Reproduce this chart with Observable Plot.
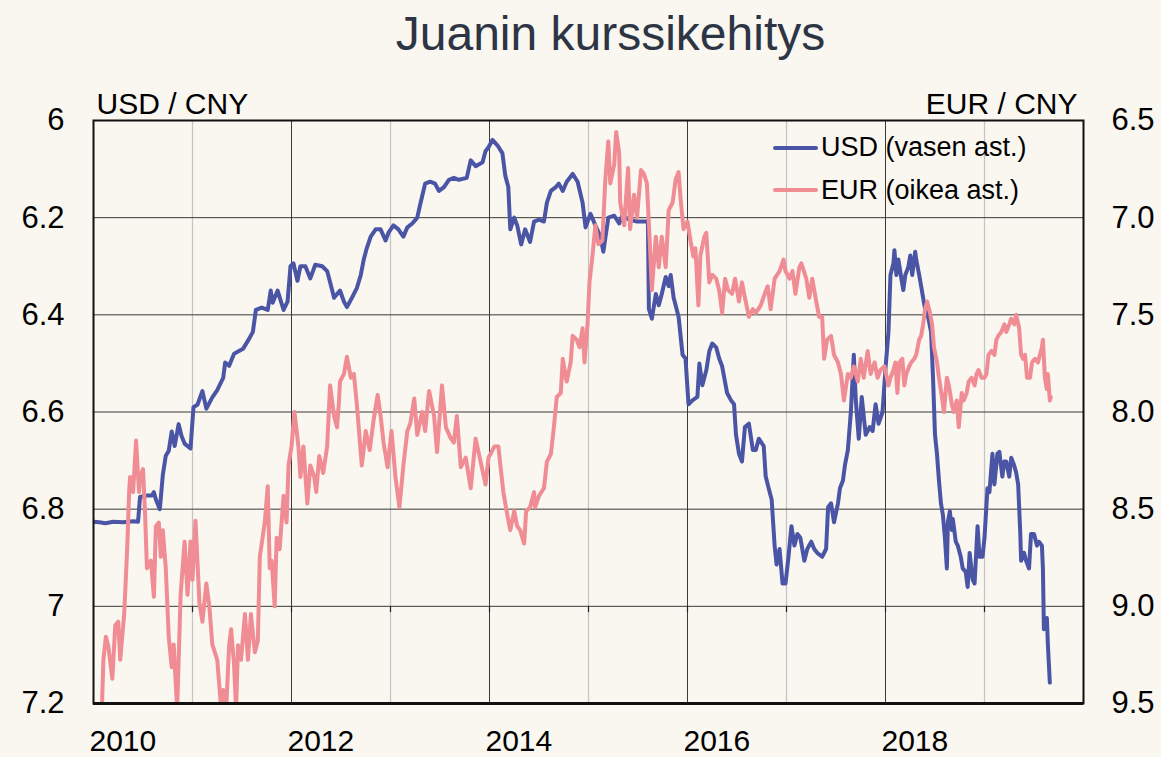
<!DOCTYPE html>
<html>
<head>
<meta charset="utf-8">
<script src="https://cdn.jsdelivr.net/npm/d3@7"></script>
<script src="https://cdn.jsdelivr.net/npm/@observablehq/plot@0.6"></script>
<style>
  html, body { margin: 0; padding: 0; background: #faf6f0; }
  #wrap { position: relative; width: 1161px; height: 757px; background: #faf6f0; font-family: "Liberation Sans", Arial, sans-serif; overflow: hidden; }
  #title { box-sizing: border-box; height: 90px; padding-top: 10px; line-height: 48px; font-size: 48px; color: #2d3545; text-align: center; margin-left: 60px; width: 1101px; }
  #legend { position: absolute; left: 773px; top: 126.5px; font-size: 27px; color: #000; }
  .row { display: flex; align-items: center; height: 42.5px; }
  .sw { display: inline-block; width: 45px; height: 4px; margin-right: 3px; border-radius: 2px; }
</style>
</head>
<body>
<div id="wrap">
  <div id="title">Juanin kurssikehitys</div>
  <div id="chart"></div>
  <div id="legend"></div>
</div>
<script>
// ---- Data ----
const titleText = "Juanin kurssikehitys";
const leftAxisTitle = "USD / CNY";
const rightAxisTitle = "EUR / CNY";
const usdName = "USD (vasen ast.)";
const eurName = "EUR (oikea ast.)";
const usdColor = "#4a55a5";
const eurColor = "#f08c94";

const yearLabels = [2010, 2012, 2014, 2016, 2018];
const darkYears = [2012, 2014, 2016, 2018];
const lightYears = [2011, 2013, 2015, 2017, 2019];
const allYears = [2011, 2012, 2013, 2014, 2015, 2016, 2017, 2018, 2019];
const usdTicks = [6, 6.2, 6.4, 6.6, 6.8, 7, 7.2];
const eurTicks = [6.5, 7.0, 7.5, 8.0, 8.5, 9.0, 9.5];

// USD/CNY, [year fraction, value]
const usdSeries = [
[2010.00,6.826],[2010.06,6.827],[2010.12,6.829],[2010.20,6.826],[2010.30,6.827],[2010.40,6.825],[2010.45,6.826],
[2010.47,6.775],[2010.53,6.772],[2010.59,6.772],[2010.61,6.765],[2010.63,6.78],[2010.67,6.80],[2010.70,6.73],
[2010.73,6.69],[2010.76,6.68],[2010.79,6.64],[2010.82,6.67],[2010.86,6.625],[2010.89,6.65],[2010.92,6.665],
[2010.98,6.675],[2011.01,6.59],[2011.05,6.585],[2011.10,6.557],[2011.14,6.593],[2011.20,6.57],[2011.25,6.555],
[2011.31,6.53],[2011.33,6.498],[2011.37,6.505],[2011.42,6.48],[2011.51,6.47],[2011.57,6.45],[2011.61,6.435],
[2011.64,6.39],[2011.70,6.385],[2011.76,6.39],[2011.79,6.35],[2011.81,6.375],[2011.86,6.35],[2011.92,6.39],
[2011.96,6.373],[2011.99,6.30],[2012.02,6.294],[2012.06,6.33],[2012.09,6.30],[2012.14,6.30],[2012.19,6.325],
[2012.24,6.297],[2012.31,6.30],[2012.36,6.31],[2012.39,6.333],[2012.43,6.365],[2012.49,6.35],[2012.53,6.373],
[2012.56,6.384],[2012.61,6.365],[2012.66,6.345],[2012.70,6.318],[2012.73,6.286],[2012.76,6.263],[2012.80,6.239],
[2012.85,6.224],[2012.90,6.224],[2012.95,6.247],[2012.98,6.231],[2013.03,6.216],[2013.08,6.224],[2013.13,6.239],
[2013.17,6.22],[2013.22,6.212],[2013.27,6.20],[2013.30,6.173],[2013.35,6.13],[2013.40,6.126],[2013.45,6.13],
[2013.49,6.145],[2013.54,6.137],[2013.59,6.122],[2013.64,6.118],[2013.69,6.122],[2013.77,6.118],[2013.81,6.082],
[2013.86,6.094],[2013.93,6.086],[2013.96,6.063],[2013.99,6.055],[2014.03,6.04],[2014.08,6.051],[2014.13,6.067],
[2014.16,6.114],[2014.19,6.137],[2014.21,6.224],[2014.25,6.20],[2014.28,6.216],[2014.32,6.255],[2014.36,6.224],
[2014.41,6.25],[2014.45,6.208],[2014.50,6.204],[2014.55,6.208],[2014.58,6.169],[2014.62,6.145],[2014.67,6.137],
[2014.70,6.13],[2014.74,6.145],[2014.78,6.126],[2014.84,6.11],[2014.89,6.126],[2014.94,6.169],[2014.97,6.22],
[2015.02,6.192],[2015.07,6.216],[2015.12,6.239],[2015.15,6.27],[2015.20,6.20],[2015.26,6.196],[2015.31,6.212],
[2015.34,6.196],[2015.41,6.204],[2015.49,6.208],[2015.58,6.208],[2015.60,6.208],[2015.61,6.388],[2015.64,6.408],
[2015.68,6.357],[2015.71,6.38],[2015.74,6.357],[2015.78,6.322],[2015.81,6.341],[2015.83,6.318],[2015.86,6.365],
[2015.91,6.404],[2015.95,6.482],[2015.98,6.49],[2016.01,6.584],[2016.05,6.576],[2016.10,6.569],[2016.12,6.50],
[2016.15,6.545],[2016.19,6.514],[2016.22,6.475],[2016.25,6.459],[2016.29,6.467],[2016.32,6.49],[2016.35,6.506],
[2016.40,6.561],[2016.44,6.576],[2016.47,6.584],[2016.49,6.647],[2016.52,6.686],[2016.55,6.702],[2016.58,6.631],
[2016.62,6.624],[2016.66,6.678],[2016.69,6.678],[2016.72,6.655],[2016.77,6.67],[2016.79,6.733],[2016.82,6.757],
[2016.85,6.78],[2016.88,6.875],[2016.90,6.914],[2016.93,6.882],[2016.96,6.953],[2016.99,6.953],[2017.02,6.898],
[2017.05,6.835],[2017.08,6.875],[2017.11,6.851],[2017.14,6.859],[2017.18,6.906],[2017.21,6.882],[2017.25,6.867],
[2017.28,6.882],[2017.31,6.89],[2017.36,6.898],[2017.40,6.882],[2017.42,6.796],[2017.45,6.788],[2017.48,6.827],
[2017.52,6.788],[2017.54,6.757],[2017.57,6.741],[2017.59,6.71],[2017.62,6.678],[2017.65,6.60],[2017.68,6.482],
[2017.70,6.576],[2017.73,6.655],[2017.76,6.569],[2017.80,6.647],[2017.84,6.631],[2017.87,6.639],[2017.90,6.584],
[2017.93,6.624],[2017.97,6.60],[2018.00,6.51],[2018.03,6.435],[2018.05,6.318],[2018.08,6.294],[2018.09,6.267],
[2018.11,6.318],[2018.13,6.286],[2018.16,6.325],[2018.18,6.349],[2018.20,6.318],[2018.23,6.302],[2018.25,6.278],
[2018.27,6.318],[2018.30,6.27],[2018.31,6.286],[2018.34,6.318],[2018.36,6.341],[2018.38,6.365],[2018.40,6.388],
[2018.43,6.404],[2018.46,6.435],[2018.48,6.529],[2018.50,6.647],[2018.52,6.686],[2018.54,6.741],[2018.56,6.788],
[2018.58,6.812],[2018.60,6.859],[2018.62,6.922],[2018.63,6.827],[2018.65,6.804],[2018.67,6.843],[2018.68,6.82],
[2018.71,6.867],[2018.73,6.875],[2018.76,6.898],[2018.78,6.922],[2018.81,6.929],[2018.83,6.96],[2018.85,6.89],
[2018.88,6.945],[2018.90,6.953],[2018.93,6.835],[2018.95,6.898],[2018.98,6.898],[2019.00,6.859],[2019.03,6.757],
[2019.05,6.765],[2019.08,6.686],[2019.10,6.749],[2019.13,6.686],[2019.15,6.682],[2019.18,6.733],[2019.20,6.702],
[2019.22,6.702],[2019.25,6.733],[2019.27,6.694],[2019.30,6.71],[2019.32,6.725],[2019.34,6.749],[2019.36,6.843],
[2019.37,6.906],[2019.40,6.89],[2019.42,6.906],[2019.45,6.922],[2019.47,6.851],[2019.50,6.851],[2019.53,6.875],
[2019.55,6.867],[2019.58,6.875],[2019.59,6.922],[2019.60,7.047],[2019.63,7.024],[2019.64,7.078],[2019.66,7.157]
];

// EUR/CNY, [year fraction, value]  (values beyond 9.5 run off the chart)
const eurSeries = [
[2010.00,9.80],[2010.085,9.52],[2010.10,9.275],[2010.125,9.157],[2010.15,9.206],[2010.19,9.373],[2010.22,9.098],
[2010.25,9.079],[2010.27,9.275],[2010.31,9.04],[2010.34,8.706],[2010.36,8.412],[2010.37,8.334],[2010.40,8.412],
[2010.43,8.147],[2010.46,8.412],[2010.47,8.334],[2010.50,8.294],[2010.52,8.51],[2010.54,8.804],[2010.58,8.765],
[2010.61,8.951],[2010.63,8.588],[2010.66,8.569],[2010.68,8.745],[2010.70,8.608],[2010.73,8.804],[2010.76,9.157],
[2010.79,9.314],[2010.81,9.196],[2010.845,9.53],[2010.88,8.941],[2010.92,8.667],[2010.95,8.941],[2010.98,8.667],
[2011.00,8.863],[2011.03,8.559],[2011.07,8.98],[2011.10,9.079],[2011.14,8.882],[2011.17,9.0],[2011.20,9.196],
[2011.25,9.275],[2011.29,9.53],[2011.31,9.43],[2011.34,9.53],[2011.37,9.2],[2011.39,9.118],[2011.42,9.3],
[2011.44,9.53],[2011.46,9.2],[2011.49,9.275],[2011.53,9.04],[2011.56,9.275],[2011.59,9.04],[2011.63,9.236],
[2011.66,9.177],[2011.68,8.745],[2011.73,8.569],[2011.76,8.382],[2011.78,8.804],[2011.80,8.765],[2011.83,9.0],
[2011.85,8.647],[2011.88,8.706],[2011.92,8.431],[2011.95,8.569],[2011.97,8.275],[2012.00,8.177],[2012.03,8.0],
[2012.07,8.177],[2012.09,8.334],[2012.12,8.177],[2012.16,8.471],[2012.19,8.275],[2012.23,8.334],[2012.25,8.412],
[2012.28,8.226],[2012.32,8.314],[2012.36,8.177],[2012.39,7.863],[2012.43,8.02],[2012.46,8.079],[2012.48,7.941],
[2012.49,7.843],[2012.53,7.804],[2012.56,7.716],[2012.60,7.824],[2012.63,7.804],[2012.66,7.961],[2012.71,8.275],
[2012.75,8.098],[2012.79,8.196],[2012.83,8.039],[2012.87,7.912],[2012.90,8.02],[2012.93,8.157],[2012.97,8.284],
[2013.01,8.098],[2013.05,8.334],[2013.09,8.49],[2013.13,8.275],[2013.17,8.098],[2013.20,8.059],[2013.24,7.931],
[2013.27,8.118],[2013.32,8.0],[2013.35,8.098],[2013.39,7.892],[2013.44,8.02],[2013.47,8.206],[2013.52,7.863],
[2013.56,8.079],[2013.61,8.137],[2013.64,8.157],[2013.67,8.02],[2013.71,8.284],[2013.76,8.235],[2013.81,8.392],
[2013.86,8.137],[2013.91,8.255],[2013.96,8.373],[2013.99,8.235],[2014.01,8.216],[2014.05,8.177],[2014.09,8.177],
[2014.11,8.275],[2014.14,8.412],[2014.18,8.53],[2014.21,8.608],[2014.25,8.51],[2014.28,8.588],[2014.31,8.608],
[2014.35,8.677],[2014.37,8.51],[2014.41,8.49],[2014.45,8.412],[2014.46,8.49],[2014.50,8.431],[2014.55,8.392],
[2014.58,8.255],[2014.62,8.216],[2014.65,8.079],[2014.68,7.922],[2014.72,7.902],[2014.74,7.726],[2014.77,7.824],
[2014.78,7.843],[2014.82,7.745],[2014.84,7.608],[2014.88,7.628],[2014.91,7.667],[2014.94,7.569],[2014.96,7.745],
[2014.99,7.549],[2015.01,7.333],[2015.04,7.196],[2015.07,7.039],[2015.10,7.137],[2015.14,7.118],[2015.17,6.804],
[2015.20,6.608],[2015.22,6.824],[2015.26,6.726],[2015.28,6.559],[2015.31,6.667],[2015.32,6.922],[2015.36,7.039],
[2015.40,6.745],[2015.42,7.059],[2015.46,6.882],[2015.49,7.0],[2015.53,6.755],[2015.56,6.775],[2015.59,6.824],
[2015.62,7.137],[2015.64,7.373],[2015.68,7.098],[2015.71,7.255],[2015.74,7.098],[2015.78,7.255],[2015.81,6.961],
[2015.85,6.922],[2015.88,6.804],[2015.91,6.765],[2015.93,6.902],[2015.96,7.059],[2016.00,7.02],[2016.03,7.118],
[2016.06,7.2],[2016.08,7.157],[2016.11,7.451],[2016.13,7.196],[2016.17,7.098],[2016.19,7.078],[2016.22,7.333],
[2016.25,7.294],[2016.29,7.314],[2016.32,7.373],[2016.35,7.49],[2016.38,7.314],[2016.41,7.373],[2016.45,7.392],
[2016.48,7.314],[2016.52,7.431],[2016.55,7.333],[2016.58,7.412],[2016.62,7.51],[2016.66,7.471],[2016.69,7.49],
[2016.74,7.451],[2016.78,7.392],[2016.81,7.353],[2016.84,7.471],[2016.88,7.314],[2016.93,7.275],[2016.97,7.216],
[2016.99,7.275],[2017.03,7.314],[2017.06,7.275],[2017.09,7.392],[2017.13,7.255],[2017.15,7.235],[2017.20,7.314],
[2017.23,7.412],[2017.26,7.314],[2017.30,7.431],[2017.33,7.51],[2017.36,7.51],[2017.38,7.726],[2017.41,7.628],
[2017.45,7.608],[2017.48,7.706],[2017.52,7.745],[2017.55,7.804],[2017.58,7.941],[2017.62,7.804],[2017.65,7.824],
[2017.68,7.765],[2017.72,7.843],[2017.75,7.726],[2017.78,7.824],[2017.82,7.686],[2017.85,7.804],[2017.89,7.745],
[2017.92,7.824],[2017.95,7.784],[2017.99,7.765],[2018.03,7.863],[2018.05,7.824],[2018.08,7.784],[2018.10,7.745],
[2018.12,7.902],[2018.14,7.745],[2018.17,7.726],[2018.19,7.863],[2018.21,7.804],[2018.24,7.765],[2018.26,7.745],
[2018.29,7.726],[2018.31,7.706],[2018.34,7.628],[2018.36,7.608],[2018.38,7.549],[2018.40,7.471],[2018.42,7.431],
[2018.45,7.49],[2018.47,7.549],[2018.49,7.667],[2018.52,7.745],[2018.54,7.824],[2018.57,7.922],[2018.59,8.0],
[2018.62,7.824],[2018.64,7.863],[2018.67,7.961],[2018.69,8.0],[2018.72,7.941],[2018.74,8.078],[2018.77,7.902],
[2018.79,7.941],[2018.82,7.902],[2018.84,7.843],[2018.87,7.824],[2018.90,7.863],[2018.92,7.804],[2018.94,7.784],
[2018.97,7.824],[2019.00,7.824],[2019.02,7.804],[2019.04,7.706],[2019.07,7.686],[2019.10,7.706],[2019.12,7.628],
[2019.14,7.608],[2019.17,7.588],[2019.20,7.549],[2019.22,7.588],[2019.25,7.549],[2019.27,7.52],[2019.30,7.549],
[2019.32,7.50],[2019.35,7.569],[2019.37,7.706],[2019.39,7.726],[2019.41,7.706],[2019.43,7.824],[2019.46,7.824],
[2019.48,7.745],[2019.51,7.726],[2019.54,7.745],[2019.56,7.706],[2019.58,7.667],[2019.59,7.628],[2019.61,7.824],
[2019.63,7.882],[2019.64,7.804],[2019.66,7.941],[2019.67,7.922]
];

// ---- Dual-axis mapping: EUR axis 6.5..9.5 aligned with USD axis 6..7.2 ----
const usdDomain = [6, 7.2];
const eurDomain = [6.5, 9.5];
const k = (usdDomain[1] - usdDomain[0]) / (eurDomain[1] - eurDomain[0]);
const eurToUsd = e => usdDomain[0] + (e - eurDomain[0]) * k;
const usdToEur = u => eurDomain[0] + (u - usdDomain[0]) / k;

const usdData = usdSeries.map(([t, v]) => ({t, v}));
const eurData = eurSeries.map(([t, v]) => ({t, v}));

document.getElementById("title").textContent = titleText;

const chart = Plot.plot({
  width: 1161,
  height: 667,
  marginTop: 30,
  marginBottom: 54,
  marginLeft: 93,
  marginRight: 78,
  style: {background: "transparent", fontFamily: "'Liberation Sans', Arial, sans-serif", fontSize: "31px", color: "#000", overflow: "visible"},
  x: {domain: [2010, 2020]},
  y: {domain: usdDomain, reverse: true},
  marks: [
    Plot.ruleX(lightYears, {stroke: "#c4c4c4", strokeWidth: 1.2}),
    Plot.ruleY(usdTicks, {stroke: "#3a3a3a", strokeWidth: 1}),
    Plot.ruleX(darkYears, {stroke: "#3a3a3a", strokeWidth: 1}),
    Plot.ruleX(allYears, {y1: 7.0, y2: 7.013, stroke: "#222", strokeWidth: 1.2}),
    Plot.line(usdData, {x: "t", y: "v", stroke: usdColor, strokeWidth: 4, strokeLinejoin: "round", clip: true}),
    Plot.line(eurData, {x: "t", y: d => eurToUsd(d.v), stroke: eurColor, strokeWidth: 4, strokeLinejoin: "round", clip: true}),
    Plot.frame({stroke: "#111", strokeWidth: 2}),
    Plot.ruleY([usdDomain[1]], {stroke: "#111", strokeWidth: 3}),
    Plot.axisY(usdTicks, {anchor: "left", tickSize: 0, tickPadding: 29, tickFormat: d => String(d), label: null, fontSize: 31}),
    Plot.axisY(eurTicks.map(eurToUsd), {anchor: "right", tickSize: 0, tickPadding: 28, tickFormat: d => usdToEur(d).toFixed(1), label: null, fontSize: 31}),
    Plot.axisX(yearLabels, {anchor: "bottom", tickSize: 0, tickPadding: 26, textAnchor: "start", dx: -4, tickFormat: d => String(d), label: null, fontSize: 30}),
    Plot.text([leftAxisTitle], {frameAnchor: "top-left", textAnchor: "start", lineAnchor: "middle", dx: 3, dy: -16, fontSize: 30, fill: "#000"}),
    Plot.text([rightAxisTitle], {frameAnchor: "top-right", textAnchor: "end", lineAnchor: "middle", dx: -6, dy: -16, fontSize: 30, fill: "#000"})
  ]
});
document.getElementById("chart").appendChild(chart);

// Legend (inside the plot frame, top right)
const legend = document.getElementById("legend");
[[usdName, usdColor], [eurName, eurColor]].forEach(([name, color]) => {
  const row = document.createElement("div");
  row.className = "row";
  const sw = document.createElement("span");
  sw.className = "sw";
  sw.style.background = color;
  const lab = document.createElement("span");
  lab.textContent = name;
  row.appendChild(sw);
  row.appendChild(lab);
  legend.appendChild(row);
});
</script>
</body>
</html>
